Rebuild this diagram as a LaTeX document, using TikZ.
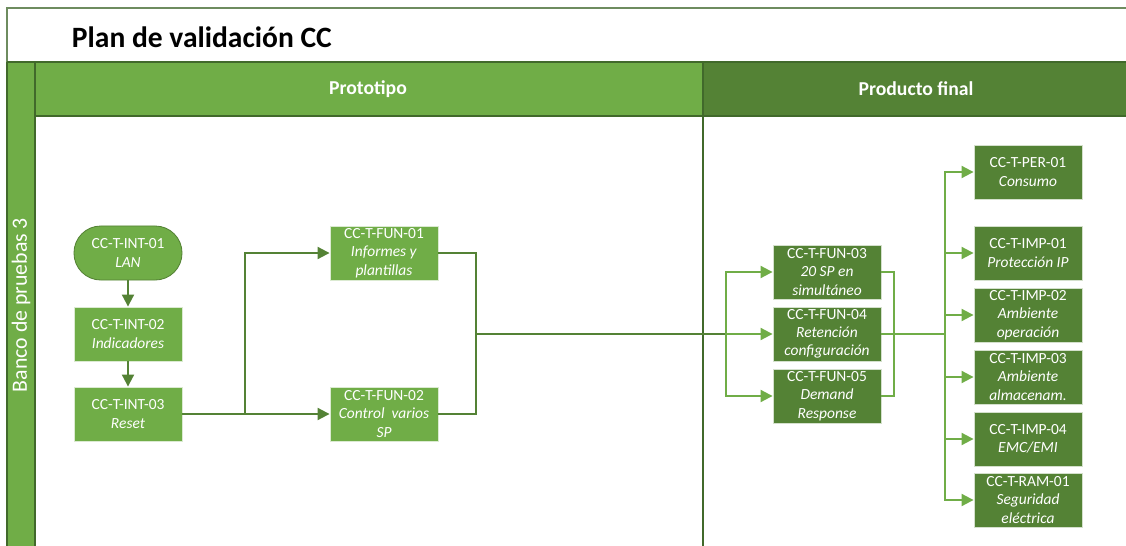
\documentclass[tikz,border=0pt]{standalone}
\usepackage{fontspec}
\setmainfont{Carlito}
\usetikzlibrary{arrows.meta}

\definecolor{lgreen}{RGB}{112,173,71}
\definecolor{dgreen}{RGB}{84,130,53}
\definecolor{edgegreen}{RGB}{65,105,43}
\definecolor{framegreen}{RGB}{110,140,95}

\begin{document}
\begin{tikzpicture}[x=0.025cm,y=-0.025cm,
	proto/.style={rectangle,fill=lgreen,draw=white!75!lgreen,line width=0.6pt,text=white,align=center,
		minimum width=2.7cm,minimum height=1.35cm,inner sep=1pt,font=\fontsize{11}{13}\selectfont},
	final/.style={proto,fill=dgreen,draw=white!75!dgreen},
	pline/.style={draw=dgreen,line width=1.4pt},
	fline/.style={draw=lgreen,line width=1.4pt},
	arr/.style={-{Triangle[length=0.3cm,width=0.3cm]}},
	band/.style={draw=edgegreen,line width=1pt}]

	% frame
	\useasboundingbox (0,0) rectangle (1126,546);
	\clip (0,0) rectangle (1126,546);
	\draw [draw=framegreen,line width=1.2pt] (7,8) rectangle (1140,560);
	\node [anchor=west,font=\fontsize{21}{25}\selectfont\bfseries] (title) at (67,37) {Plan de validación CC};

	% lanes
	\fill [lgreen] (7,62) rectangle (703,116);
	\fill [dgreen] (703,62) rectangle (1140,116);
	\fill [lgreen] (7,62) rectangle (35,560);
	\draw [band] (7,62) -- (1140,62);
	\draw [band] (35,116) -- (1140,116);
	\draw [band] (35,62) -- (35,560);
	\draw [band] (7,62) -- (7,560);
	\draw [band,line width=1.4pt] (703,62) -- (703,560);
	\node [text=white,font=\fontsize{14}{16}\selectfont\bfseries] (proto) at (368,89) {Prototipo};
	\node [text=white,font=\fontsize{14}{16}\selectfont\bfseries] (final) at (916,89) {Producto final};
	\node [text=white,rotate=90,font=\fontsize{15.5}{17}\selectfont] (banco) at (21,305) {Banco de pruebas 3};

	% prototipo
	\node [proto,draw=dgreen,rounded corners=0.67cm] (int1) at (128,253) {CC-T-INT-01\\\textit{LAN}};
	\node [proto] (int2) at (128,334) {CC-T-INT-02\\\textit{Indicadores}};
	\node [proto] (int3) at (128,414) {CC-T-INT-03\\\textit{Reset}};
	\node [proto] (fun1) at (384,253) {CC-T-FUN-01\\\textit{Informes y}\\\textit{plantillas}};
	\node [proto] (fun2) at (384,414) {CC-T-FUN-02\\\textit{Control\ \ varios}\\\textit{SP}};

	% producto final
	\node [final] (fun3) at (827,272) {CC-T-FUN-03\\\textit{20 SP en}\\\textit{simultáneo}};
	\node [final] (fun4) at (827,334) {CC-T-FUN-04\\\textit{Retención}\\\textit{configuración}};
	\node [final] (fun5) at (827,396) {CC-T-FUN-05\\\textit{Demand}\\\textit{Response}};
	\node [final] (per1) at (1028,172) {CC-T-PER-01\\\textit{Consumo}};
	\node [final] (imp1) at (1028,253) {CC-T-IMP-01\\\textit{Protección IP}};
	\node [final] (imp2) at (1028,315) {CC-T-IMP-02\\\textit{Ambiente}\\\textit{operación}};
	\node [final] (imp3) at (1028,377) {CC-T-IMP-03\\\textit{Ambiente}\\\textit{almacenam.}};
	\node [final] (imp4) at (1028,439) {CC-T-IMP-04\\\textit{EMC/EMI}};
	\node [final] (ram1) at (1028,500) {CC-T-RAM-01\\\textit{Seguridad}\\\textit{eléctrica}};

	% connectors
	\coordinate (s1) at (245,414);
	\coordinate (j1) at (476,334);
	\coordinate (b1) at (726,334);
	\coordinate (j2) at (894,334);
	\coordinate (b2) at (945,334);
	\draw [pline,arr] (int1) -- (int2);
	\draw [pline,arr] (int2) -- (int3);
	\draw [pline] (int3) -- (s1);
	\draw [pline,arr] (s1) |- (fun1);
	\draw [pline,arr] (s1) -- (fun2);
	\draw [pline] (fun1) -| (j1);
	\draw [pline] (fun2) -| (j1);
	\draw [pline] (j1) -- (b1);
	\draw [fline,arr] (b1) |- (fun3);
	\draw [fline,arr] (b1) -- (fun4);
	\draw [fline,arr] (b1) |- (fun5);
	\draw [fline] (fun3) -| (j2);
	\draw [fline] (fun5) -| (j2);
	\draw [fline] (fun4) -- (b2);
	\foreach \n in {per1,imp1,imp2,imp3,imp4,ram1}
		\draw [fline,arr] (b2) |- (\n);

\end{tikzpicture}
\end{document}
